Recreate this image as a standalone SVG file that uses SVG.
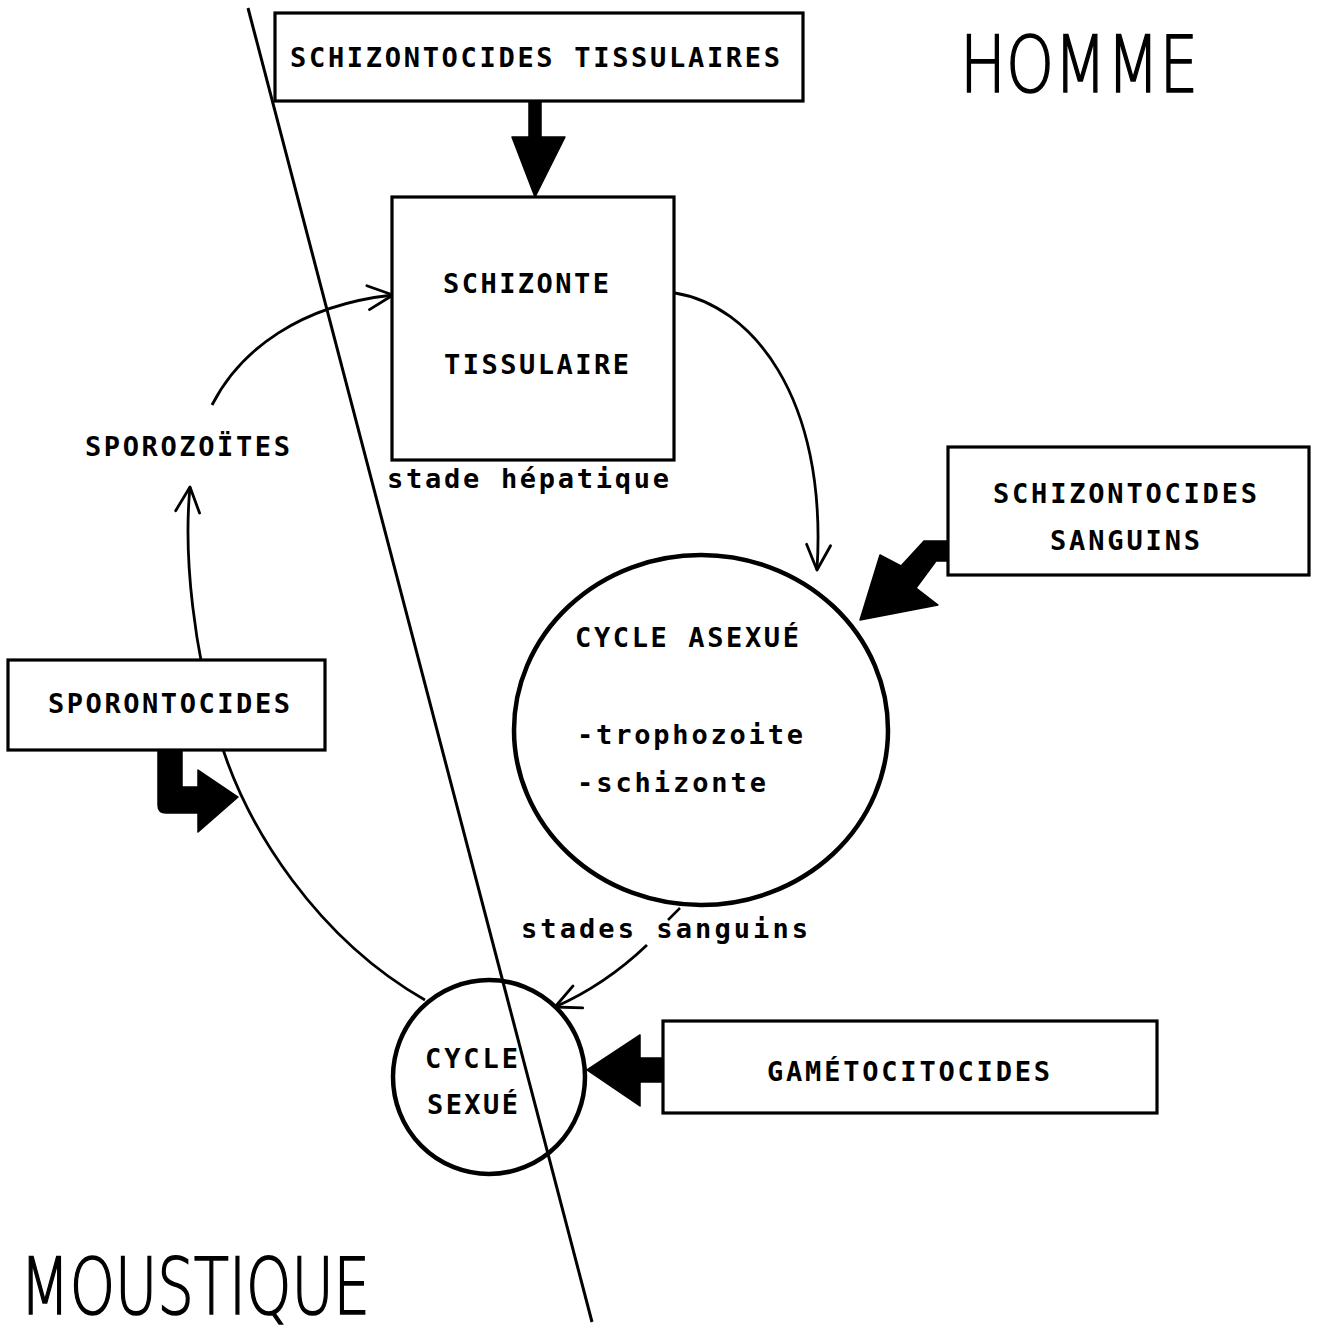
<svg xmlns="http://www.w3.org/2000/svg" width="1318" height="1331" viewBox="0 0 1318 1331">
<style>
.box{fill:#fff;stroke:#000;stroke-width:3.2}
.circ{fill:none;stroke:#000;stroke-width:4.5}
.ln{fill:none;stroke:#000;stroke-width:2.8}
.fat{fill:#000;stroke:#000;stroke-width:1.5;stroke-linejoin:round}
.t{font-family:"DejaVu Sans Mono","Liberation Mono",monospace;font-weight:bold;font-size:27px;fill:#000}
.big{font-family:"DejaVu Sans","Liberation Sans",sans-serif;font-weight:200;font-size:78px;fill:#000;stroke:#000;stroke-width:1.6}
</style>
<defs>
<marker id="open" viewBox="-28 -15 30 30" refX="0" refY="0" markerWidth="30" markerHeight="30" orient="auto" markerUnits="userSpaceOnUse">
<path d="M-25,-12 L0,0 L-25,12" fill="none" stroke="#000" stroke-width="2.8" stroke-linecap="round" stroke-linejoin="round"/>
</marker>
</defs>
<rect width="1318" height="1331" fill="#fff"/>

<g id="separator">
<line x1="248" y1="8" x2="592" y2="1322" stroke="#000" stroke-width="3"/>
</g>

<g id="connectors">
<path class="ln" d="M212,405 C240,350 300,305 393,295" marker-end="url(#open)"/>
<path class="ln" d="M675,293 C750,305 828,395 817,570" marker-end="url(#open)"/>
<path class="ln" d="M647,945 Q605,985 555,1007" marker-end="url(#open)"/>
<path class="ln" d="M425,1000 C320,940 245,830 217,730 C195,650 183,560 190,487" marker-end="url(#open)"/>
<line x1="680" y1="908" x2="668" y2="920" stroke="#000" stroke-width="2.5"/>
<polygon class="fat" points="529,101 541,101 541,137 565,137 535,197 512,137 529,137"/>
<polygon class="fat" points="948,541 924,541 901,566 880,555 860,620 938,605 916,588 936,561 948,561"/>
<polygon class="fat" points="663,1058 640,1058 640,1035 587,1070 640,1106 640,1082 663,1082"/>
<path class="fat" d="M158,750 L182,750 L182,787 L198,787 L198,770 L238,797 L198,832 L198,813 L166,813 Q158,813 158,805 Z"/>
</g>

<g id="schizontocides-tissulaires">
<rect class="box" x="275" y="13" width="528" height="88"/>
<text class="t" x="290" y="67" textLength="490" lengthAdjust="spacing">SCHIZONTOCIDES TISSULAIRES</text>
</g>

<g id="schizonte-tissulaire">
<rect class="box" x="392" y="197" width="282" height="263"/>
<text class="t" x="443" y="293" textLength="166" lengthAdjust="spacing">SCHIZONTE</text>
<text class="t" x="444" y="374" textLength="185" lengthAdjust="spacing">TISSULAIRE</text>
<text class="t" x="387" y="488" textLength="282" lengthAdjust="spacing">stade hépatique</text>
</g>

<g id="sporozoites">
<text class="t" x="85" y="456" textLength="205" lengthAdjust="spacing">SPOROZOÏTES</text>
</g>

<g id="schizontocides-sanguins">
<rect class="box" x="948" y="447" width="361" height="128"/>
<text class="t" x="993" y="503" textLength="264" lengthAdjust="spacing">SCHIZONTOCIDES</text>
<text class="t" x="1050" y="550" textLength="150" lengthAdjust="spacing">SANGUINS</text>
</g>

<g id="cycle-asexue">
<ellipse class="circ" cx="701" cy="730" rx="187" ry="175"/>
<text class="t" x="575" y="647" textLength="224" lengthAdjust="spacing">CYCLE ASEXUÉ</text>
<text class="t" x="577" y="744" textLength="226" lengthAdjust="spacing">-trophozoite</text>
<text class="t" x="577" y="792" textLength="189" lengthAdjust="spacing">-schizonte</text>
<text class="t" x="521" y="938" textLength="287" lengthAdjust="spacing">stades sanguins</text>
</g>

<g id="sporontocides">
<rect class="box" x="8" y="660" width="317" height="90"/>
<text class="t" x="48" y="713" textLength="242" lengthAdjust="spacing">SPORONTOCIDES</text>
</g>

<g id="cycle-sexue">
<ellipse class="circ" cx="489" cy="1077" rx="96" ry="97" stroke-width="5"/>
<text class="t" x="425" y="1068" textLength="93" lengthAdjust="spacing">CYCLE</text>
<text class="t" x="427" y="1114" textLength="91" lengthAdjust="spacing">SEXUÉ</text>
</g>

<g id="gametocitocides">
<rect class="box" x="663" y="1021" width="494" height="92"/>
<text class="t" x="767" y="1081" textLength="283" lengthAdjust="spacing">GAMÉTOCITOCIDES</text>
</g>

<g id="titles">
<text class="big" x="960" y="92" textLength="238" lengthAdjust="spacingAndGlyphs">HOMME</text>
<text class="big" x="20" y="1314" textLength="350" lengthAdjust="spacingAndGlyphs">MOUSTIQUE</text>
</g>
</svg>
